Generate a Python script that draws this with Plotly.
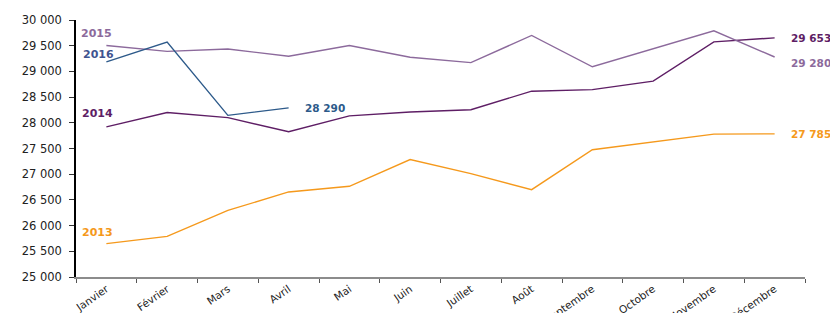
import plotly.graph_objects as go

months = ["Janvier", "Février", "Mars", "Avril", "Mai", "Juin", "Juillet",
          "Août", "Septembre", "Octobre", "Novembre", "Décembre"]

v2013 = [25650, 25790, 26295, 26655, 26765, 27285, 27010, 26700, 27475, 27630, 27780, 27785]
v2014 = [27920, 28200, 28100, 27825, 28135, 28210, 28255, 28615, 28645, 28810, 29575, 29653]
v2015 = [29505, 29390, 29435, 29295, 29505, 29275, 29170, 29700, 29090, 29440, 29790, 29280]
v2016 = [29185, 29570, 28145, 28290]

series = [
    ("2013", v2013, "#F5991C", "#F5991C"),
    ("2014", v2014, "#5E1E65", "#5E1E65"),
    ("2015", v2015, "#8C6A9C", "#8C6A9C"),
    ("2016", v2016, "#2D5A8A", "#3F5490"),
]

start_shift = {"2013": (-9, 11), "2014": (-9, 13), "2015": (-10, 12), "2016": (-8, 7)}
end_shift = {"2013": 0, "2014": 0, "2015": -6, "2016": 0}

FONT = "DejaVu Sans"

fig = go.Figure()
for name, vals, col, lcol in series:
    fig.add_trace(go.Scatter(
        x=months[:len(vals)], y=vals, mode="lines", name=name,
        line=dict(color=col, width=1.4), hoverinfo="skip", showlegend=False))

annotations = []
for name, vals, col, lcol in series:
    xs, ys = start_shift[name]
    annotations.append(dict(
        x=months[0], y=vals[0], xref="x", yref="y", text="<b>%s</b>" % name,
        showarrow=False, xanchor="center", yanchor="middle", xshift=xs, yshift=ys,
        font=dict(family=FONT, size=11, color=lcol)))
    last = vals[-1]
    label = "{:,}".format(last).replace(",", " ")
    annotations.append(dict(
        x=months[len(vals) - 1], y=last, xref="x", yref="y", text="<b>%s</b>" % label,
        showarrow=False, xanchor="left", yanchor="middle", xshift=14, yshift=end_shift[name],
        font=dict(family=FONT, size=10.5, color=col)))

# page body has an 8px margin: figure drawn at (8, 8)
fig.update_layout(
    width=830, height=305,
    margin=dict(l=68, r=33, t=12, b=36, autoexpand=False),
    paper_bgcolor="white", plot_bgcolor="white",
    separators=", ",
    font=dict(family=FONT, size=11, color="#222222"),
    annotations=annotations,
    xaxis=dict(
        type="category", categoryorder="array", categoryarray=months,
        range=[-0.5, 11.5], showgrid=False, zeroline=False, automargin=False,
        showline=True, linecolor="#8C8C8C", linewidth=2,
        ticks="outside", tickson="boundaries", ticklen=4, tickcolor="#555555",
        tickangle=-35, tickfont=dict(family=FONT, size=10.5, color="#222222"),
    ),
    yaxis=dict(
        range=[25000, 30000], dtick=500, tick0=25000, tickformat=",d",
        showgrid=False, zeroline=False, automargin=False,
        showline=True, linecolor="black", linewidth=1.5,
        ticks="outside", ticklen=5, tickcolor="#333333", ticklabelstandoff=5,
        tickfont=dict(family=FONT, size=11.5, color="#222222"),
    ),
)

fig.write_html("out.html")
